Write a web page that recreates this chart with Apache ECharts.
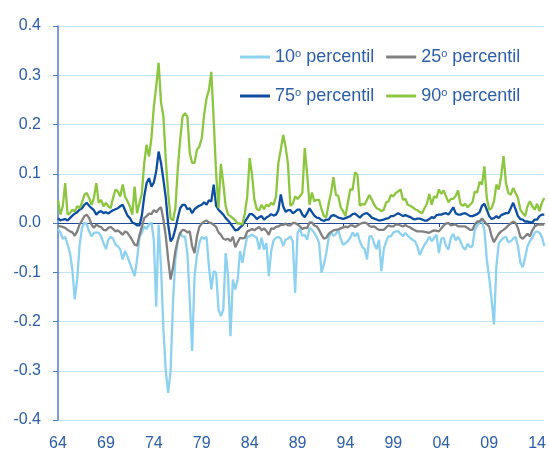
<!DOCTYPE html>
<html>
<head>
<meta charset="utf-8">
<script src="https://cdn.jsdelivr.net/npm/echarts@6/dist/echarts.min.js"></script>
<style>
	html, body { margin: 0; padding: 0; background: #fff; }
	#chart { width: 549px; height: 457px; }
</style>
</head>
<body>
<div id="chart"></div>
<script>
// quarterly points, 1964 Q1 .. 2014 Q4
const firstYear = 1964;
const lastYear = 2014;
const tickLabels = ["64", "69", "74", "79", "84", "89", "94", "99", "04", "09", "14"];
const yTicks = { min: -0.4, max: 0.4, step: 0.1 };

// 10º percentil
const p10 = [
	-0.012, -0.019, -0.032, -0.028, -0.044, -0.061, -0.095, -0.155, -0.115, -0.047,
	-0.010, 0.001, -0.003, -0.017, -0.027, -0.020, -0.019, -0.020, -0.027, -0.041,
	-0.053, -0.034, -0.028, -0.032, -0.044, -0.047, -0.054, -0.074, -0.057, -0.068,
	-0.082, -0.095, -0.108, -0.074, -0.030,
	-0.020, -0.007, -0.012, -0.003, 0.001, -0.034, -0.170, -0.003, -0.088, -0.216,
	-0.300, -0.345, -0.300, -0.162, -0.074, -0.037, -0.019, -0.028, -0.027, -0.061,
	-0.155, -0.260, -0.108, -0.066, -0.041, -0.028, -0.032, -0.028, -0.088, -0.135,
	-0.098, -0.101, -0.176, -0.189, -0.176,
	-0.061, -0.108, -0.230, -0.115, -0.135, -0.115, -0.057, -0.081, -0.051, -0.027,
	-0.027, -0.024, -0.027, -0.030, -0.054, -0.030, -0.054, -0.041, -0.108, -0.057,
	-0.035, -0.030, -0.028, -0.032, -0.047, -0.034, -0.032, -0.027, -0.037, -0.142,
	-0.020, -0.012, -0.026, -0.024, -0.034,
	-0.010, -0.014, -0.020, -0.028, -0.041, -0.101, -0.084, -0.061, -0.030, -0.018,
	-0.026, -0.022, -0.014, -0.032, -0.044, -0.041, -0.037, -0.030, -0.019, -0.027,
	-0.020, -0.037, -0.049, -0.053, -0.074, -0.027, -0.027, -0.042, -0.053, -0.034,
	-0.098, -0.053, -0.037, -0.027,
	-0.027, -0.019, -0.017, -0.017, -0.022, -0.027, -0.020, -0.026, -0.030, -0.034,
	-0.037, -0.047, -0.065, -0.054, -0.044, -0.037, -0.028, -0.037, -0.030, -0.024,
	-0.061, -0.032, -0.030, -0.047, -0.054, -0.030, -0.022, -0.035, -0.028, -0.037,
	-0.049, -0.054, -0.042, -0.049, -0.047,
	-0.014, -0.005, 0.001, 0.003, -0.014, -0.074, -0.111, -0.155, -0.206, -0.088,
	-0.041, -0.035, -0.030, -0.028, -0.039, -0.037, -0.032, -0.028, -0.047, -0.080,
	-0.090, -0.070, -0.047, -0.037, -0.030, -0.020, -0.017, -0.020, -0.028, -0.047
];

// 25º percentil
const p25 = [
	-0.005, -0.007, -0.008, -0.010, -0.014, -0.017, -0.019, -0.026, -0.017, -0.003,
	0.005, 0.014, 0.017, 0.010, -0.003, -0.010, -0.003, -0.007, -0.008, -0.014,
	-0.015, -0.010, -0.008, -0.012, -0.017, -0.015, -0.019, -0.024, -0.017, -0.020,
	-0.027, -0.035, -0.044, -0.046, -0.025,
	-0.008, 0.010, 0.014, 0.019, 0.018, 0.026, 0.022, 0.028, 0.032, 0.007,
	-0.027, -0.074, -0.115, -0.091, -0.057, -0.035, -0.020, -0.014, -0.015, -0.019,
	-0.017, -0.047, -0.061, -0.027, -0.008, -0.001, 0.003, 0.005, 0.001, 0.000,
	-0.004, -0.008, -0.019, -0.024, -0.032,
	-0.034, -0.032, -0.037, -0.028, -0.049, -0.039, -0.030, -0.031, -0.030, -0.017,
	-0.015, -0.012, -0.015, -0.011, -0.008, -0.015, -0.011, -0.016, -0.024, -0.011,
	-0.012, -0.008, -0.007, -0.004, -0.004, -0.001, -0.005, -0.005, 0.000, 0.000,
	-0.003, -0.007, -0.012, -0.010, -0.010,
	0.001, 0.001, -0.005, -0.007, -0.014, -0.024, -0.032, -0.030, -0.022, -0.018,
	-0.015, -0.014, -0.013, -0.011, -0.009, -0.007, -0.009, -0.005, -0.005, -0.008,
	-0.005, -0.002, 0.000, 0.001, -0.001, -0.006, -0.008, -0.007, -0.011, -0.014,
	-0.014, -0.014, -0.009, -0.005,
	-0.007, -0.007, -0.003, -0.003, -0.005, -0.007, -0.004, -0.007, -0.009, -0.012,
	-0.015, -0.017, -0.017, -0.017, -0.018, -0.019, -0.020, -0.017, -0.015, -0.016,
	-0.017, -0.011, -0.005, -0.001, 0.000, -0.005, -0.004, -0.003, -0.007, -0.007,
	-0.007, -0.007, -0.010, -0.014, -0.014,
	-0.003, 0.003, 0.003, 0.009, 0.003, -0.003, -0.007, -0.027, -0.039, -0.030,
	-0.022, -0.017, -0.014, -0.010, -0.005, -0.001, 0.003, 0.000, -0.010, -0.028,
	-0.032, -0.027, -0.022, -0.027, -0.015, -0.007, -0.004, -0.003, -0.003, -0.003
];

// 75º percentil
const p75 = [
	0.010, 0.005, 0.007, 0.008, 0.005, 0.010, 0.015, 0.019, 0.022, 0.027,
	0.030, 0.037, 0.041, 0.035, 0.030, 0.026, 0.017, 0.022, 0.024, 0.020,
	0.022, 0.019, 0.023, 0.026, 0.028, 0.030, 0.034, 0.037, 0.026, 0.015,
	0.010, 0.001, -0.001, -0.005, -0.005,
	0.015, 0.054, 0.081, 0.091, 0.074, 0.082, 0.105, 0.145, 0.122, 0.088,
	0.051, -0.003, -0.037, -0.030, -0.012, 0.010, 0.030, 0.037, 0.037, 0.028,
	0.030, 0.020, 0.028, 0.032, 0.035, 0.037, 0.042, 0.037, 0.046, 0.044,
	0.078, 0.035, 0.027, 0.022, 0.017,
	0.010, 0.005, -0.001, -0.008, -0.015, -0.014, -0.009, -0.005, 0.003, 0.010,
	0.018, 0.018, 0.014, 0.008, 0.012, 0.014, 0.007, 0.011, 0.014, 0.018,
	0.015, 0.017, 0.026, 0.058, 0.034, 0.023, 0.026, 0.026, 0.020, 0.023,
	0.027, 0.027, 0.017, 0.012, 0.020,
	0.030, 0.022, 0.015, 0.011, 0.010, 0.006, 0.004, 0.007, 0.007, 0.014,
	0.016, 0.014, 0.011, 0.010, 0.008, 0.010, 0.012, 0.014, 0.018, 0.019,
	0.015, 0.011, 0.016, 0.019, 0.020, 0.016, 0.011, 0.009, 0.007, 0.005,
	0.006, 0.007, 0.009, 0.010,
	0.014, 0.014, 0.017, 0.020, 0.017, 0.014, 0.016, 0.014, 0.012, 0.009,
	0.007, 0.009, 0.009, 0.007, 0.005, 0.005, 0.008, 0.012, 0.010, 0.016,
	0.017, 0.017, 0.019, 0.020, 0.017, 0.024, 0.032, 0.020, 0.017, 0.017,
	0.019, 0.020, 0.017, 0.014, 0.014,
	0.016, 0.018, 0.022, 0.035, 0.039, 0.027, 0.014, 0.008, 0.010, 0.014,
	0.010, 0.016, 0.018, 0.020, 0.020, 0.030, 0.041, 0.028, 0.014, 0.008,
	0.007, 0.003, 0.003, 0.002, 0.001, 0.007, 0.007, 0.014, 0.017, 0.017
];

// 90º percentil
const p90 = [
	0.047, 0.017, 0.034, 0.081, 0.017, 0.020, 0.027, 0.024, 0.034, 0.030,
	0.041, 0.057, 0.061, 0.051, 0.037, 0.051, 0.081, 0.041, 0.047, 0.034,
	0.041, 0.034, 0.030, 0.051, 0.068, 0.064, 0.054, 0.078, 0.054, 0.044,
	0.034, 0.017, 0.074, 0.020, 0.040,
	0.060, 0.122, 0.159, 0.135, 0.172, 0.236, 0.277, 0.325, 0.245, 0.216,
	0.128, 0.060, 0.010, 0.005, 0.030, 0.110, 0.169, 0.216, 0.223, 0.216,
	0.142, 0.122, 0.122, 0.149, 0.155, 0.172, 0.220, 0.253, 0.270, 0.307,
	0.209, 0.101, 0.030, 0.120, 0.080,
	0.034, 0.017, 0.014, 0.010, 0.005, -0.001, -0.001, -0.003, 0.020, 0.054,
	0.132, 0.098, 0.047, 0.028, 0.026, 0.037, 0.028, 0.037, 0.034, 0.041,
	0.037, 0.054, 0.122, 0.149, 0.179, 0.155, 0.120, 0.035, 0.039, 0.054,
	0.049, 0.054, 0.061, 0.152, 0.100,
	0.037, 0.062, 0.044, 0.047, 0.047, 0.028, 0.014, 0.012, 0.039, 0.062,
	0.093, 0.057, 0.055, 0.032, 0.024, 0.014, 0.041, 0.068, 0.068, 0.103,
	0.098, 0.035, 0.039, 0.037, 0.047, 0.057, 0.047, 0.037, 0.030, 0.028,
	0.024, 0.027, 0.042, 0.044,
	0.057, 0.054, 0.061, 0.064, 0.068, 0.047, 0.049, 0.037, 0.035, 0.032,
	0.028, 0.026, 0.022, 0.020, 0.030, 0.039, 0.059, 0.037, 0.054, 0.051,
	0.068, 0.059, 0.066, 0.054, 0.042, 0.049, 0.049, 0.055, 0.066, 0.039,
	0.035, 0.039, 0.032, 0.037, 0.042,
	0.064, 0.062, 0.084, 0.078, 0.115, 0.051, 0.027, 0.030, 0.044, 0.078,
	0.068, 0.095, 0.136, 0.081, 0.061, 0.057, 0.071, 0.061, 0.051, 0.027,
	0.020, 0.014, 0.034, 0.044, 0.034, 0.027, 0.039, 0.024, 0.041, 0.051
];

const quarters = [];
for (let y = firstYear; y <= lastYear; y++) {
	for (let q = 1; q <= 4; q++) quarters.push(y + "Q" + q);
}

const font = "Liberation Sans, Arial, sans-serif";
const labelColor = "#2B5EA7";

const legendText = {
	fontFamily: font,
	fontSize: 18,
	color: labelColor,
	rich: {
		s: { fontFamily: font, fontSize: 11, color: labelColor, verticalAlign: "top", lineHeight: 12 }
	}
};
// the º is drawn as a small raised o
const legendFormat = (name) => name.replace("º", "{s|o}");

const chart = echarts.init(document.getElementById("chart"));

const lineSeries = (name, data, color) => ({
	name: name,
	type: "line",
	data: data,
	xAxisIndex: 0,
	showSymbol: false,
	symbol: "none",
	lineStyle: { color: color, width: 2.3 },
	itemStyle: { color: color },
	animation: false
});

const option = {
	animation: false,
	grid: { left: 58, right: 0, top: 26, bottom: 37 },
	legend: [
		{
			data: ["10º percentil", "25º percentil"],
			left: 240,
			top: 48,
			padding: 0,
			itemGap: 12,
			itemWidth: 30,
			itemHeight: 3,
			icon: "rect",
			formatter: legendFormat,
			textStyle: legendText
		},
		{
			data: ["75º percentil", "90º percentil"],
			left: 240,
			top: 87,
			padding: 0,
			itemGap: 12,
			itemWidth: 30,
			itemHeight: 3,
			icon: "rect",
			formatter: legendFormat,
			textStyle: legendText
		}
	],
	xAxis: [
		{
			type: "category",
			data: quarters,
			boundaryGap: false,
			axisLine: { show: false, onZero: false },
			axisTick: { show: false },
			splitLine: { show: false },
			axisLabel: {
				interval: (index) => index % 20 === 0,
				formatter: (value, index) => tickLabels[index / 20],
				margin: 16,
				fontFamily: font,
				fontSize: 16,
				color: labelColor
			}
		},
		{
			// zero line with its small ticks
			type: "category",
			data: quarters,
			boundaryGap: false,
			axisLine: { show: true, onZero: true, lineStyle: { color: "#1F4A98", width: 1 } },
			axisTick: {
				show: true,
				inside: true,
				length: 4,
				interval: (index) => index % 40 === 39,
				lineStyle: { color: "#1F4A98" }
			},
			axisLabel: { show: false },
			splitLine: { show: false }
		}
	],
	yAxis: {
		type: "value",
		min: yTicks.min,
		max: yTicks.max,
		interval: yTicks.step,
		axisLine: { show: true, lineStyle: { color: "#4F7DC4", width: 1.5 } },
		axisTick: { show: true, length: 5, lineStyle: { color: "#4F7DC4" } },
		splitLine: { lineStyle: { color: "#BEE4F6", width: 1 } },
		axisLabel: {
			formatter: (v) => v.toFixed(1),
			margin: 17,
			fontFamily: font,
			fontSize: 16,
			color: labelColor
		}
	},
	series: [
		lineSeries("10º percentil", p10, "#8DD1F1"),
		lineSeries("25º percentil", p25, "#808080"),
		lineSeries("75º percentil", p75, "#0D4EA0"),
		lineSeries("90º percentil", p90, "#8CC63F")
	]
};

chart.setOption(option);
</script>
</body>
</html>
